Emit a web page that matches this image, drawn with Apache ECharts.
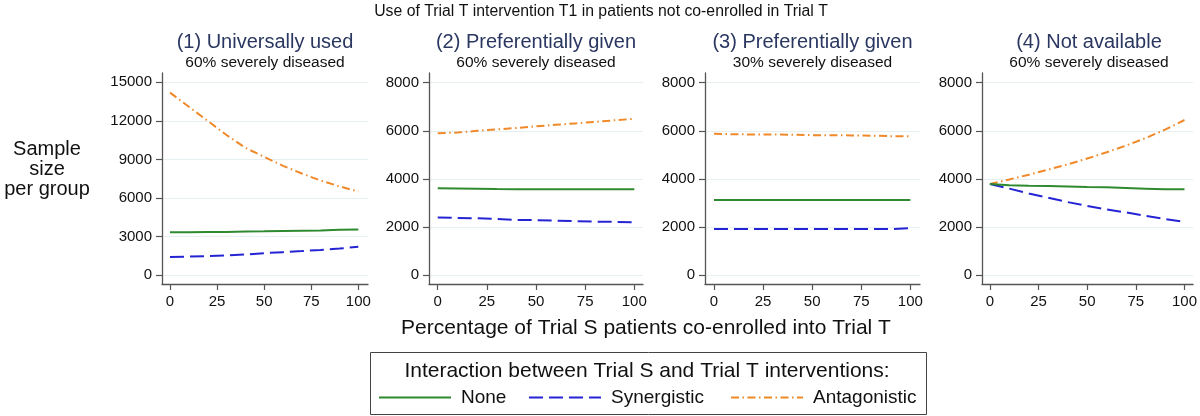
<!DOCTYPE html>
<html>
<head>
<meta charset="utf-8">
<script src="https://cdn.jsdelivr.net/npm/echarts@6/dist/echarts.min.js"></script>
<style>
html,body{margin:0;padding:0;background:#fff;}
#chart{width:1200px;height:416px;}
</style>
</head>
<body>
<div id="chart"></div>
<script>
// ---------------- DATA ----------------
const xPct = [0, 10, 20, 30, 40, 50, 60, 70, 80, 90, 100];
const xTicks = [0, 25, 50, 75, 100];
const yTicksP1 = [0, 3000, 6000, 9000, 12000, 15000];
const yTicksP234 = [0, 2000, 4000, 6000, 8000];

const seriesNames = ['None', 'Synergistic', 'Antagonistic'];

const p1None = [3320, 3330, 3340, 3350, 3380, 3400, 3430, 3450, 3470, 3520, 3550];
const p1Syn  = [1400, 1430, 1470, 1530, 1600, 1700, 1780, 1860, 1950, 2060, 2200];
const p1Ant  = [14200, 13100, 12000, 10900, 9900, 9200, 8500, 7900, 7350, 6900, 6500];

const p2None = [3620, 3610, 3600, 3580, 3575, 3570, 3570, 3570, 3570, 3570, 3570];
const p2Syn  = [2400, 2380, 2370, 2340, 2300, 2290, 2270, 2250, 2230, 2220, 2200];
const p2Ant  = [5900, 5930, 6000, 6060, 6120, 6190, 6250, 6310, 6370, 6440, 6500];

const p3None = [3130, 3130, 3130, 3130, 3130, 3130, 3130, 3130, 3130, 3130, 3130];
const p3Syn  = [1920, 1920, 1920, 1920, 1920, 1920, 1920, 1920, 1920, 1920, 1960];
const p3Ant  = [5880, 5860, 5850, 5850, 5840, 5820, 5820, 5810, 5800, 5780, 5780];

const p4None = [3790, 3740, 3720, 3710, 3690, 3670, 3660, 3630, 3600, 3570, 3570];
const p4Syn  = [3790, 3600, 3400, 3220, 3040, 2880, 2740, 2610, 2470, 2340, 2220];
const p4Ant  = [3790, 3980, 4180, 4390, 4610, 4850, 5110, 5390, 5700, 6050, 6450];

const mainTitle = 'Use of Trial T intervention T1 in patients not co-enrolled in Trial T';
const panelTitles = ['(1) Universally used', '(2) Preferentially given', '(3) Preferentially given', '(4) Not available'];
const panelSubtitles = ['60% severely diseased', '60% severely diseased', '30% severely diseased', '60% severely diseased'];
const yTitleLines = ['Sample', 'size', 'per group'];
const xTitle = 'Percentage of Trial S patients co-enrolled into Trial T';
const legendTitle = 'Interaction between Trial S and Trial T interventions:';

// ---------------- STYLE / LAYOUT ----------------
const FONT = '"Liberation Sans", Arial, Helvetica, sans-serif';
const colors = { None: '#2e8a2e', Synergistic: '#2424d4', Antagonistic: '#f0892a' };
const dashes = { None: 'solid', Synergistic: [14, 6], Antagonistic: [8, 3.5, 1.5, 3.5] };

const panels = [
  { left: 162, width: 206, xmin: -4.25, xmax: 105.15, ymin: -700, ymax: 15724, yTicks: yTicksP1, data: [p1None, p1Syn, p1Ant] },
  { left: 429, width: 214, xmin: -4.43, xmax: 104.43, ymin: -361, ymax: 8403, yTicks: yTicksP234, data: [p2None, p2Syn, p2Ant] },
  { left: 705, width: 215, xmin: -4.58, xmax: 104.94, ymin: -361, ymax: 8403, yTicks: yTicksP234, data: [p3None, p3Syn, p3Ant] },
  { left: 982, width: 214, xmin: -4.05, xmax: 104.41, ymin: -361, ymax: 8403, yTicks: yTicksP234, data: [p4None, p4Syn, p4Ant] }
];
const gridTop = 73, gridHeight = 211;

const axisColor = '#555555';
const gridLineColor = '#e6eff1';

const grids = [], xAxes = [], yAxes = [], series = [], graphics = [];

panels.forEach((p, i) => {
  grids.push({ left: p.left, top: gridTop, width: p.width, height: gridHeight, containLabel: false });
  xAxes.push({
    type: 'value', gridIndex: i, min: p.xmin, max: p.xmax,
    axisLine: { show: true, onZero: false, lineStyle: { color: axisColor, width: 1.3 } },
    axisTick: { show: true, length: 6, lineStyle: { color: axisColor, width: 1.2 }, customValues: xTicks },
    axisLabel: { show: true, customValues: xTicks, fontSize: 15, fontFamily: FONT, color: '#111', margin: 10,
                 formatter: v => String(v) },
    splitLine: { show: false }
  });
  yAxes.push({
    type: 'value', gridIndex: i, min: p.ymin, max: p.ymax,
    axisLine: { show: true, onZero: false, lineStyle: { color: axisColor, width: 1.3 } },
    axisTick: { show: true, length: 6, lineStyle: { color: axisColor, width: 1.2 }, customValues: p.yTicks },
    axisLabel: { show: true, customValues: p.yTicks, fontSize: 15, fontFamily: FONT, color: '#111', margin: 10,
                 formatter: v => String(v) },
    splitLine: { show: true, lineStyle: { color: gridLineColor, width: 1.2 } }
  });
  seriesNames.forEach((name, k) => {
    series.push({
      name: name, type: 'line', xAxisIndex: i, yAxisIndex: i,
      data: xPct.map((x, j) => [x, p.data[k][j]]),
      symbol: 'none', smooth: false, silent: true,
      lineStyle: { color: colors[name], width: 2, type: dashes[name] },
      itemStyle: { color: colors[name] },
      z: 3 + (2 - k)
    });
  });
  const cx = p.left + p.width / 2;
  graphics.push({ type: 'text', x: cx, y: 42, style: { text: panelTitles[i], align: 'center', verticalAlign: 'middle',
    fontSize: 20, fontFamily: FONT, fill: '#2a3760' } });
  graphics.push({ type: 'text', x: cx, y: 63, style: { text: panelSubtitles[i], align: 'center', verticalAlign: 'middle',
    fontSize: 15.5, fontFamily: FONT, fill: '#111' } });
});

graphics.push({ type: 'text', x: 601, y: 12, style: { text: mainTitle, align: 'center', verticalAlign: 'middle',
  fontSize: 15.8, fontFamily: FONT, fill: '#111' } });
yTitleLines.forEach((t, i) => {
  graphics.push({ type: 'text', x: 47, y: 149 + i * 20, style: { text: t, align: 'center', verticalAlign: 'middle',
    fontSize: 20, fontFamily: FONT, fill: '#111' } });
});
graphics.push({ type: 'text', x: 646, y: 328, style: { text: xTitle, align: 'center', verticalAlign: 'middle',
  fontSize: 21, fontFamily: FONT, fill: '#111' } });
graphics.push({ type: 'rect', shape: { x: 370.5, y: 352.5, width: 556, height: 62 },
  style: { fill: '#fff', stroke: '#444', lineWidth: 1 }, z: -1 });
graphics.push({ type: 'text', x: 647, y: 371, style: { text: legendTitle, align: 'center', verticalAlign: 'middle',
  fontSize: 21, fontFamily: FONT, fill: '#111' } });

const legendLefts = [378, 528, 730];
const legends = seriesNames.map((name, k) => ({
  data: [name], left: legendLefts[k], top: 388, orient: 'horizontal', padding: 0,
  itemWidth: 72, itemHeight: 16, selectedMode: false,
  itemStyle: { opacity: 0, borderWidth: 0 },
  textStyle: { fontSize: 19, fontFamily: FONT, color: '#111', padding: [0, 0, 0, 5] }
}));

const chart = echarts.init(document.getElementById('chart'), null, { renderer: 'canvas' });
chart.setOption({
  animation: false,
  backgroundColor: '#fff',
  grid: grids, xAxis: xAxes, yAxis: yAxes, series: series,
  legend: legends,
  graphic: graphics
});
</script>
</body>
</html>
